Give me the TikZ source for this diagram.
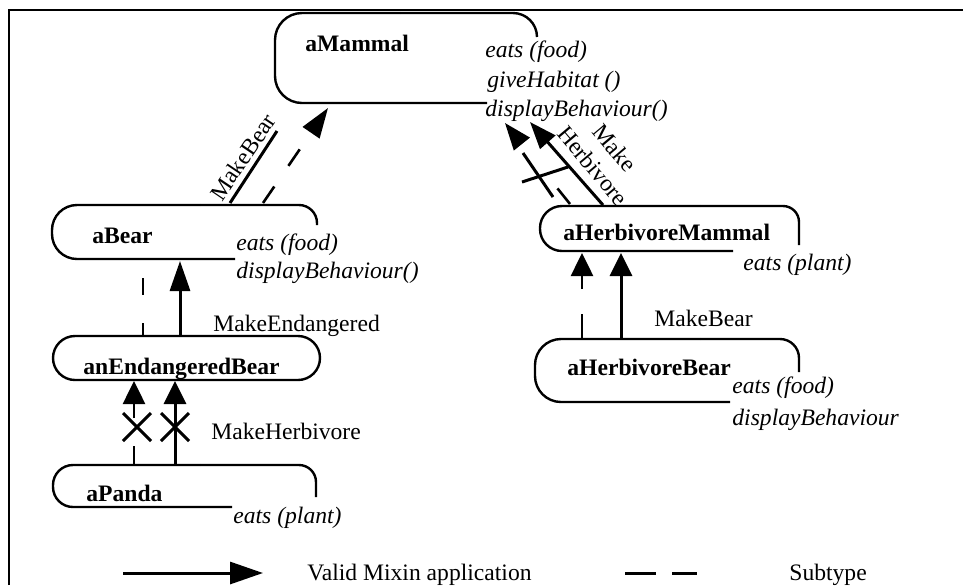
\documentclass[tikz,border=0pt]{standalone}
\usepackage{fontspec}
\setmainfont{Liberation Serif}
\usetikzlibrary{arrows.meta}
\begin{document}
\begin{tikzpicture}[x=0.5pt,y=-0.5pt,
  box/.style={line width=1.2pt},
  lbl/.style={inner sep=0pt,font=\fontsize{11.8}{14.2}\selectfont},
  nm/.style={inner sep=0pt,font=\fontsize{11.8}{14.2}\selectfont\bfseries},
  meth/.style={inner sep=0pt,font=\fontsize{11.8}{14.2}\selectfont\itshape},
  mixin/.style={line width=1.5pt},
  subtype/.style={line width=1.3pt},
  bighead/.style={-{Triangle[length=15pt,width=10pt]}},
  midhead/.style={-{Triangle[length=13.5pt,width=10pt]}},
  smallhead/.style={-{Triangle[length=11.5pt,width=11pt]}},
  cross/.style={line width=1.5pt},
]
\useasboundingbox (0,0) rectangle (963,585);
% frame
\draw[line width=0.7pt] (9,585) -- (9,9);
\draw[line width=0.7pt] (9,10) -- (963,10);

% ---- boxes ----
% aMammal
\draw[box,rounded corners=13.5pt] (487,103) -- (275,103) -- (275,13) -- (400,13);
\draw[box,rounded corners=12pt] (400,13) -- (537,13) -- (537,37);
% aBear
\draw[box,rounded corners=12.5pt] (235,259) -- (52,259) -- (52,205) -- (200,205);
\draw[box,rounded corners=9pt] (200,205) -- (317,205) -- (317,225);
% anEndangeredBear
\draw[box,rounded corners=11pt] (53,336) rectangle (320,380);
% aPanda
\draw[box,rounded corners=10pt] (232,507) -- (53,507) -- (53,465) -- (200,465);
\draw[box,rounded corners=8.5pt] (200,465) -- (316,465) -- (316,497);
% aHerbivoreMammal
\draw[box,rounded corners=11pt] (733,251) -- (540,251) -- (540,206) -- (700,206);
\draw[box,rounded corners=8pt] (700,206) -- (799,206) -- (799,245);
% aHerbivoreBear
\draw[box,rounded corners=13pt] (730,402) -- (535,402) -- (535,339) -- (700,339);
\draw[box,rounded corners=9.5pt] (700,339) -- (799,339) -- (799,372);

% ---- texts ----
\node[nm,anchor=base west] (mamN) at (305,51) {aMammal};
\node[meth,anchor=base west] (mamM1) at (485,57) {eats (food)};
\node[meth,anchor=base west] (mamM2) at (487,87) {giveHabitat ()};
\node[meth,anchor=base west] (mamM3) at (485,116) {displayBehaviour()};

\node[nm,anchor=base west] (bearN) at (92,243) {aBear};
\node[meth,anchor=base west] (bearM1) at (236,250) {eats (food)};
\node[meth,anchor=base west] (bearM2) at (236,278) {displayBehaviour()};

\node[nm,anchor=base west] (ebN) at (83,374) {anEndangeredBear};

\node[nm,anchor=base west] (pandaN) at (86,501) {aPanda};
\node[meth,anchor=base west] (pandaM1) at (233,523) {eats (plant)};

\node[nm,anchor=base west] (hmN) at (563,240) {aHerbivoreMammal};
\node[meth,anchor=base west] (hmM1) at (743,270) {eats (plant)};

\node[nm,anchor=base west] (hbN) at (567,375) {aHerbivoreBear};
\node[meth,anchor=base west] (hbM1) at (732,393) {eats (food)};
\node[meth,anchor=base west] (hbM2) at (732,425) {displayBehaviour};

\node[lbl,anchor=base west] (lEnd) at (213,331) {MakeEndangered};
\node[lbl,anchor=base west] (lHerb) at (211,439) {MakeHerbivore};
\node[lbl,anchor=base west] (lBear2) at (654,326) {MakeBear};
\node[lbl,rotate=56] (lBear1) at (243,157) {MakeBear};
\node[lbl,rotate=-50,align=center] (lHerb2) at (604,157) {Make\\Herbivore};

% ---- connector end points ----
\coordinate (bearS) at (230,203);
\coordinate (mamS) at (277,131);
\coordinate (bearD) at (263,203);
\coordinate (mamD) at (328,108);
\coordinate (hmS) at (603,205);
\coordinate (mamS2) at (530,122);
\coordinate (hmD) at (570,204);
\coordinate (mamD2) at (505,123);
\coordinate (ebS) at (180,336);
\coordinate (bearS2) at (180,261);
\coordinate (bearD2) at (143,259);
\coordinate (ebD) at (143,336);
\coordinate (pandaD) at (134,464);
\coordinate (ebD2) at (134,381);
\coordinate (pandaS) at (175,464);
\coordinate (ebS2) at (175,381);
\coordinate (hbD) at (582,338);
\coordinate (hmD2) at (582,253);
\coordinate (hbS) at (621,338);
\coordinate (hmS2) at (621,253);

% ---- connectors ----
\draw[mixin] (bearS) -- (mamS);
\draw[subtype,bighead,dash pattern=on 10pt off 12.5pt] (bearD) -- (mamD);
\draw[mixin,midhead] (hmS) -- (mamS2);
\draw[subtype,midhead,dash pattern=on 10pt off 40pt] (hmD) -- (mamD2);
\draw[mixin,bighead] (ebS) -- (bearS2);
\draw[subtype,dash pattern=on 8.5pt off 14pt,dash phase=13pt] (bearD2) -- (ebD);
\draw[subtype,smallhead,dash pattern=on 9pt off 14pt] (pandaD) -- (ebD2);
\draw[mixin,smallhead] (pandaS) -- (ebS2);
\draw[subtype,smallhead,dash pattern=on 12pt off 12.5pt] (hbD) -- (hmD2);
\draw[mixin,smallhead] (hbS) -- (hmS2);

% ---- crosses ----
\draw[cross] (523,153) -- (553,197);
\draw[cross] (522,182) -- (568,167);
\draw[cross] (123,413) -- (151,441);
\draw[cross] (123,441) -- (151,413);
\draw[cross] (161,413) -- (189,441);
\draw[cross] (161,441) -- (189,413);

% ---- legend ----
\coordinate (legA) at (123,573);
\coordinate (legB) at (263,573);
\draw[mixin,-{Triangle[length=16.5pt,width=11pt]}] (legA) -- (legB);
\node[lbl,anchor=base west] (legT1) at (307,580) {Valid Mixin application};
\coordinate (legC) at (625,573);
\coordinate (legD) at (697,573);
\draw[line width=1.5pt,dash pattern=on 15.5pt off 8pt] (legC) -- (legD);
\node[lbl,anchor=base west] (legT2) at (789,580) {Subtype};
\end{tikzpicture}
\end{document}
